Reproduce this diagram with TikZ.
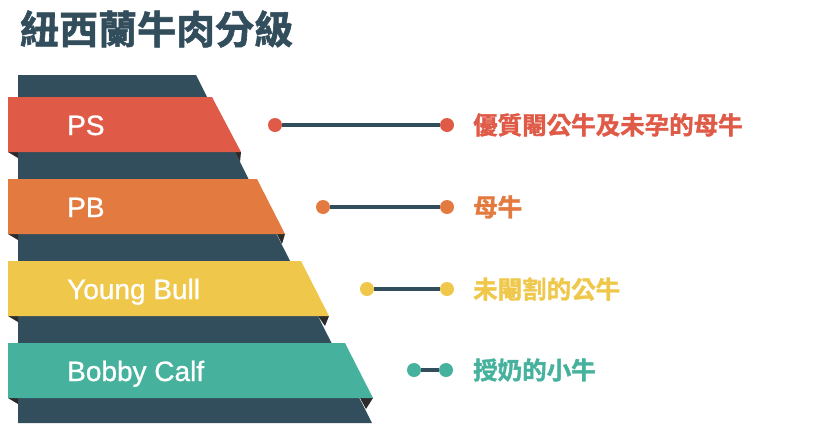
\documentclass[tikz,border=0pt]{standalone}
\usepackage{fontspec}
\setmainfont{Liberation Sans}
\newfontfamily\bandfont{Liberation Sans}[FakeBold=0.8]
\newfontfamily\cjk{Noto Sans CJK TC}[BoldFont={Noto Sans CJK TC Bold}, BoldFeatures={FakeBold=1.5}]
\usepackage{xcolor}
\usetikzlibrary{positioning}

\definecolor{slate}{HTML}{324D5C}
\definecolor{fold}{HTML}{2B2B2B}
\definecolor{gradeps}{HTML}{E05A48}
\definecolor{gradepb}{HTML}{E37B40}
\definecolor{gradeyb}{HTML}{EFC84B}
\definecolor{gradebc}{HTML}{46B29D}

\begin{document}
\begin{tikzpicture}[x=1pt, y=-1pt,
            every node/.append style = {inner sep = 0pt},
            bandlabel/.style = {anchor = base west, text = white, font = \bandfont\fontsize{28}{32}\selectfont},
            gradetext/.style = {anchor = west, font = \cjk\bfseries\fontsize{24.5}{28}\selectfont},
            gradedot/.style = {circle, minimum size = 14pt},
            link/.style = {slate, line width = 4pt}]
            \useasboundingbox (0,0) rectangle (820,437);
            \node[anchor = west, text = slate, font = \cjk\bfseries\fontsize{39}{44}\selectfont] (title) at (20,29) {紐西蘭牛肉分級};
            % the dark slab behind the ribbons
            \fill[slate] (18,75) -- (196,75) -- (372,423) -- (18,423) -- cycle;
            % folds under the ribbons
            \fill[fold] (8,152) -- (18,152) -- (18,158) -- cycle;
            \fill[fold] (235,152) -- (241,152) -- (240,162) -- cycle;
            \fill[fold] (8,234) -- (18,234) -- (18,240) -- cycle;
            \fill[fold] (277,234) -- (285,234) -- (282,244) -- cycle;
            \fill[fold] (8,316) -- (18,316) -- (18,322) -- cycle;
            \fill[fold] (318,316) -- (329,316) -- (325,326) -- cycle;
            \fill[fold] (8,398) -- (18,398) -- (18,404) -- cycle;
            \fill[fold] (360,398) -- (373,398) -- (366,409) -- cycle;
            % ribbons
            \fill[gradeps] (8,97) -- (212,97) -- (241,152) -- (8,152) -- cycle;
            \fill[gradepb] (8,179) -- (257,179) -- (285,234) -- (8,234) -- cycle;
            \fill[gradeyb] (8,261) -- (301,261) -- (329,316) -- (8,316) -- cycle;
            \fill[gradebc] (8,343) -- (345,343) -- (373,398) -- (8,398) -- cycle;
            \node[bandlabel] (ps) at (67,135) {PS};
            \node[bandlabel] (pb) at (67,217) {PB};
            \node[bandlabel] (yb) at (67,299) {Young Bull};
            \node[bandlabel] (bc) at (67,381) {Bobby Calf};
            % connectors
            \node[gradedot, fill = gradeps] (psleft) at (275,125) {};
            \node[gradedot, fill = gradeps] (psright) at (447,125) {};
            \node[gradedot, fill = gradepb] (pbleft) at (323,207) {};
            \node[gradedot, fill = gradepb] (pbright) at (447,207) {};
            \node[gradedot, fill = gradeyb] (ybleft) at (367,289) {};
            \node[gradedot, fill = gradeyb] (ybright) at (447,289) {};
            \node[gradedot, fill = gradebc] (bcleft) at (414,370) {};
            \node[gradedot, fill = gradebc] (bcright) at (446,370) {};
            \draw[link] (psleft) -- (psright);
            \draw[link] (pbleft) -- (pbright);
            \draw[link] (ybleft) -- (ybright);
            \draw[link] (bcleft) -- (bcright);
            \node[gradetext, text = gradeps] (pstext) at (473,125) {優質閹公牛及未孕的母牛};
            \node[gradetext, text = gradepb] (pbtext) at (473,207) {母牛};
            \node[gradetext, text = gradeyb] (ybtext) at (473,289) {未閹割的公牛};
            \node[gradetext, text = gradebc] (bctext) at (473,370) {授奶的小牛};
        \end{tikzpicture}
\end{document}
